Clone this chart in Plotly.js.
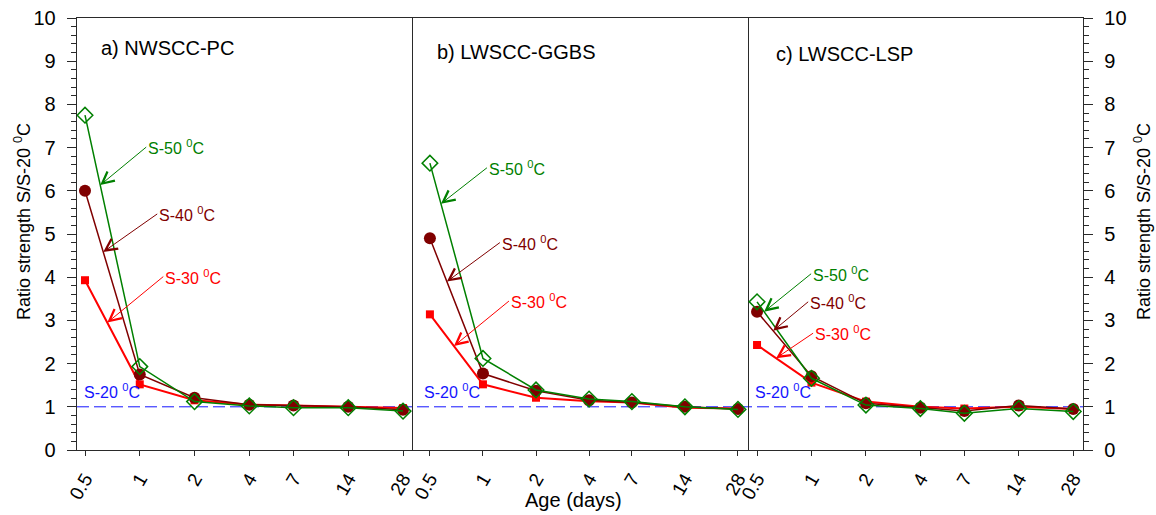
<!DOCTYPE html>
<html><head><meta charset="utf-8">
<script src="https://cdn.plot.ly/plotly-3.0.1.min.js"></script>
<style>html,body{margin:0;padding:0;background:#fff}</style>
</head><body>
<div id="chart" style="width:1156px;height:515px"></div>
<script>
// ---- data ----
const ages = [0.5, 1, 2, 4, 7, 14, 28];
const ageLabels = ['0.5', '1', '2', '4', '7', '14', '28'];
const panelTitles = ['a) NWSCC-PC', 'b) LWSCC-GGBS', 'c) LWSCC-LSP'];
const seriesNames = ['S-30 <sup>0</sup>C', 'S-40 <sup>0</sup>C', 'S-50 <sup>0</sup>C'];
const refName = 'S-20 <sup>0</sup>C';
const s20 = 1;

const a_s30 = [3.93, 1.52, 1.15, 1.05, 1.03, 1.00, 0.97];
const a_s40 = [6.00, 1.75, 1.21, 1.05, 1.03, 1.00, 0.93];
const a_s50 = [7.75, 1.93, 1.12, 1.02, 0.98, 0.98, 0.90];

const b_s30 = [3.14, 1.52, 1.21, 1.13, 1.10, 0.98, 0.96];
const b_s40 = [4.90, 1.77, 1.37, 1.15, 1.10, 1.00, 0.95];
const b_s50 = [6.64, 2.12, 1.39, 1.18, 1.12, 1.00, 0.94];

const c_s30 = [2.43, 1.56, 1.12, 1.00, 0.96, 1.00, 0.95];
const c_s40 = [3.20, 1.71, 1.08, 0.98, 0.90, 1.03, 0.95];
const c_s50 = [3.43, 1.66, 1.04, 0.96, 0.85, 0.96, 0.89];

// ---- styling ----
const W = 1156, H = 515;
const FONT = 'Liberation Sans, Arial, Helvetica, sans-serif';
const colors = ['#ff0000', '#800000', '#008000'];
const blue = '#1515ff';
const frame = '#2a2a2a';

const panels = [
  {sfx: '', data: [a_s30, a_s40, a_s50], dom: [77, 413], range: [-0.345, 1.502],
   arrows: [{t: 0.407, ax: 56, ay: -46}, {t: 0.333, ax: 54, ay: -38}, {t: 0.278, ax: 46, ay: -38}],
   titleX: 0.066, titleY: 0.93, refX: 0.015},
  {sfx: '2', data: [b_s30, b_s40, b_s50], dom: [413, 748], range: [-0.397, 1.504],
   arrows: [{t: 0.453, ax: 55, ay: -45}, {t: 0.32, ax: 53, ay: -39}, {t: 0.208, ax: 46, ay: -36}],
   titleX: 0.067, titleY: 0.921, refX: 0.027},
  {sfx: '3', data: [c_s30, c_s40, c_s50], dom: [748, 1083], range: [-0.351, 1.501],
   arrows: [{t: 0.35, ax: 37, ay: -25}, {t: 0.296, ax: 35, ay: -29}, {t: 0.13, ax: 47, ay: -38}],
   titleX: 0.079, titleY: 0.917, refX: 0.015}
];

const markers = [
  {symbol: 'square', size: 8, color: colors[0], line: {width: 0}},
  {symbol: 'circle', size: 12, color: colors[1], line: {width: 0}},
  {symbol: 'diamond-open', size: 12, color: colors[2], line: {width: 1.5, color: colors[2]}}
];
const lineW = [2, 1.5, 1.5];

const traces = [];
const annotations = [];
const layout = {
  width: W, height: H,
  margin: {l: 0, r: 0, t: 0, b: 0},
  showlegend: false,
  paper_bgcolor: '#ffffff',
  plot_bgcolor: 'rgba(0,0,0,0)',
  font: {family: FONT, size: 18, color: '#000'},
  shapes: [],
  annotations: annotations
};
const yDom = [(H - 450) / H, (H - 18) / H];

panels.forEach((p, pi) => {
  const xa = 'x' + p.sfx, ya = 'y' + p.sfx;
  p.data.forEach((vals, si) => {
    traces.push({
      x: ages, y: vals, xaxis: xa, yaxis: ya, type: 'scatter', mode: 'lines+markers',
      name: seriesNames[si], cliponaxis: false,
      line: {color: colors[si], width: lineW[si]},
      marker: markers[si], hoverinfo: 'x+y'
    });
    // arrow annotation pointing at the first segment of the series
    const ar = p.arrows[si];
    const x0 = Math.log10(ages[0]), x1 = Math.log10(ages[1]);
    annotations.push({
      xref: xa, yref: ya,
      x: x0 + ar.t * (x1 - x0), y: vals[0] + ar.t * (vals[1] - vals[0]),
      ax: ar.ax, ay: ar.ay, showarrow: true,
      arrowhead: 5, arrowsize: 2.3, arrowwidth: 1, arrowcolor: colors[si],
      xanchor: 'left', yanchor: 'middle',
      text: seriesNames[si], font: {family: FONT, size: 16, color: colors[si]}
    });
  });
  // panel title
  annotations.push({
    xref: xa + ' domain', yref: ya + ' domain', x: p.titleX, y: p.titleY,
    xanchor: 'left', yanchor: 'middle', showarrow: false,
    text: panelTitles[pi], font: {family: FONT, size: 20, color: '#000'}
  });
  // reference label
  annotations.push({
    xref: xa + ' domain', yref: ya, x: p.refX, y: s20, yshift: 4,
    xanchor: 'left', yanchor: 'bottom', showarrow: false,
    text: refName, font: {family: FONT, size: 16, color: blue}
  });

  layout['xaxis' + p.sfx] = {
    type: 'log', domain: [p.dom[0] / W, p.dom[1] / W], range: p.range, anchor: ya,
    tickmode: 'array', tickvals: ages, ticktext: ageLabels, tickangle: -60,
    ticks: 'outside', ticklen: 5, tickwidth: 1, tickcolor: frame, ticklabelstandoff: 4,
    tickfont: {family: FONT, size: 19, color: '#000'},
    showline: true, linecolor: frame, linewidth: 1.3, mirror: true,
    showgrid: false, zeroline: false
  };
  const yax = {
    domain: yDom, range: [0, 10], anchor: xa, dtick: 1, tick0: 0,
    showline: true, linecolor: frame, linewidth: 1.3, mirror: pi === 1,
    showgrid: false, zeroline: false,
    tickfont: {family: FONT, size: 20, color: '#000'}
  };
  if (pi === 1) {
    Object.assign(yax, {ticks: '', showticklabels: false});
  } else {
    Object.assign(yax, {
      ticks: 'outside', ticklen: 9, tickwidth: 1, tickcolor: frame, ticklabelstandoff: 7,
      minor: {dtick: 0.2, ticks: 'outside', ticklen: 5, tickwidth: 1, tickcolor: frame, showgrid: false},
      side: pi === 0 ? 'left' : 'right'
    });
  }
  layout['yaxis' + p.sfx] = yax;
});

// reference (S-20) dashed line across all panels
layout.shapes.push({
  type: 'line', xref: 'paper', yref: 'y', x0: 77 / W, x1: 1083 / W, y0: s20, y1: s20,
  layer: 'below', line: {color: blue, width: 1, dash: '12px,5px'}
});

// axis titles
const yTitle = 'Ratio strength S/S-20 <sup>0</sup>C';
annotations.push({xref: 'paper', yref: 'paper', x: 22 / W, y: (H - 222) / H, textangle: -90,
  xanchor: 'center', yanchor: 'middle', showarrow: false, text: yTitle,
  font: {family: FONT, size: 18, color: '#000'}});
annotations.push({xref: 'paper', yref: 'paper', x: 1142 / W, y: (H - 222) / H, textangle: -90,
  xanchor: 'center', yanchor: 'middle', showarrow: false, text: yTitle,
  font: {family: FONT, size: 18, color: '#000'}});
annotations.push({xref: 'paper', yref: 'paper', x: 573 / W, y: (H - 500) / H,
  xanchor: 'center', yanchor: 'middle', showarrow: false, text: 'Age (days)',
  font: {family: FONT, size: 20, color: '#000'}});

Plotly.newPlot('chart', traces, layout, {displayModeBar: false, staticPlot: true});
</script>
</body></html>
